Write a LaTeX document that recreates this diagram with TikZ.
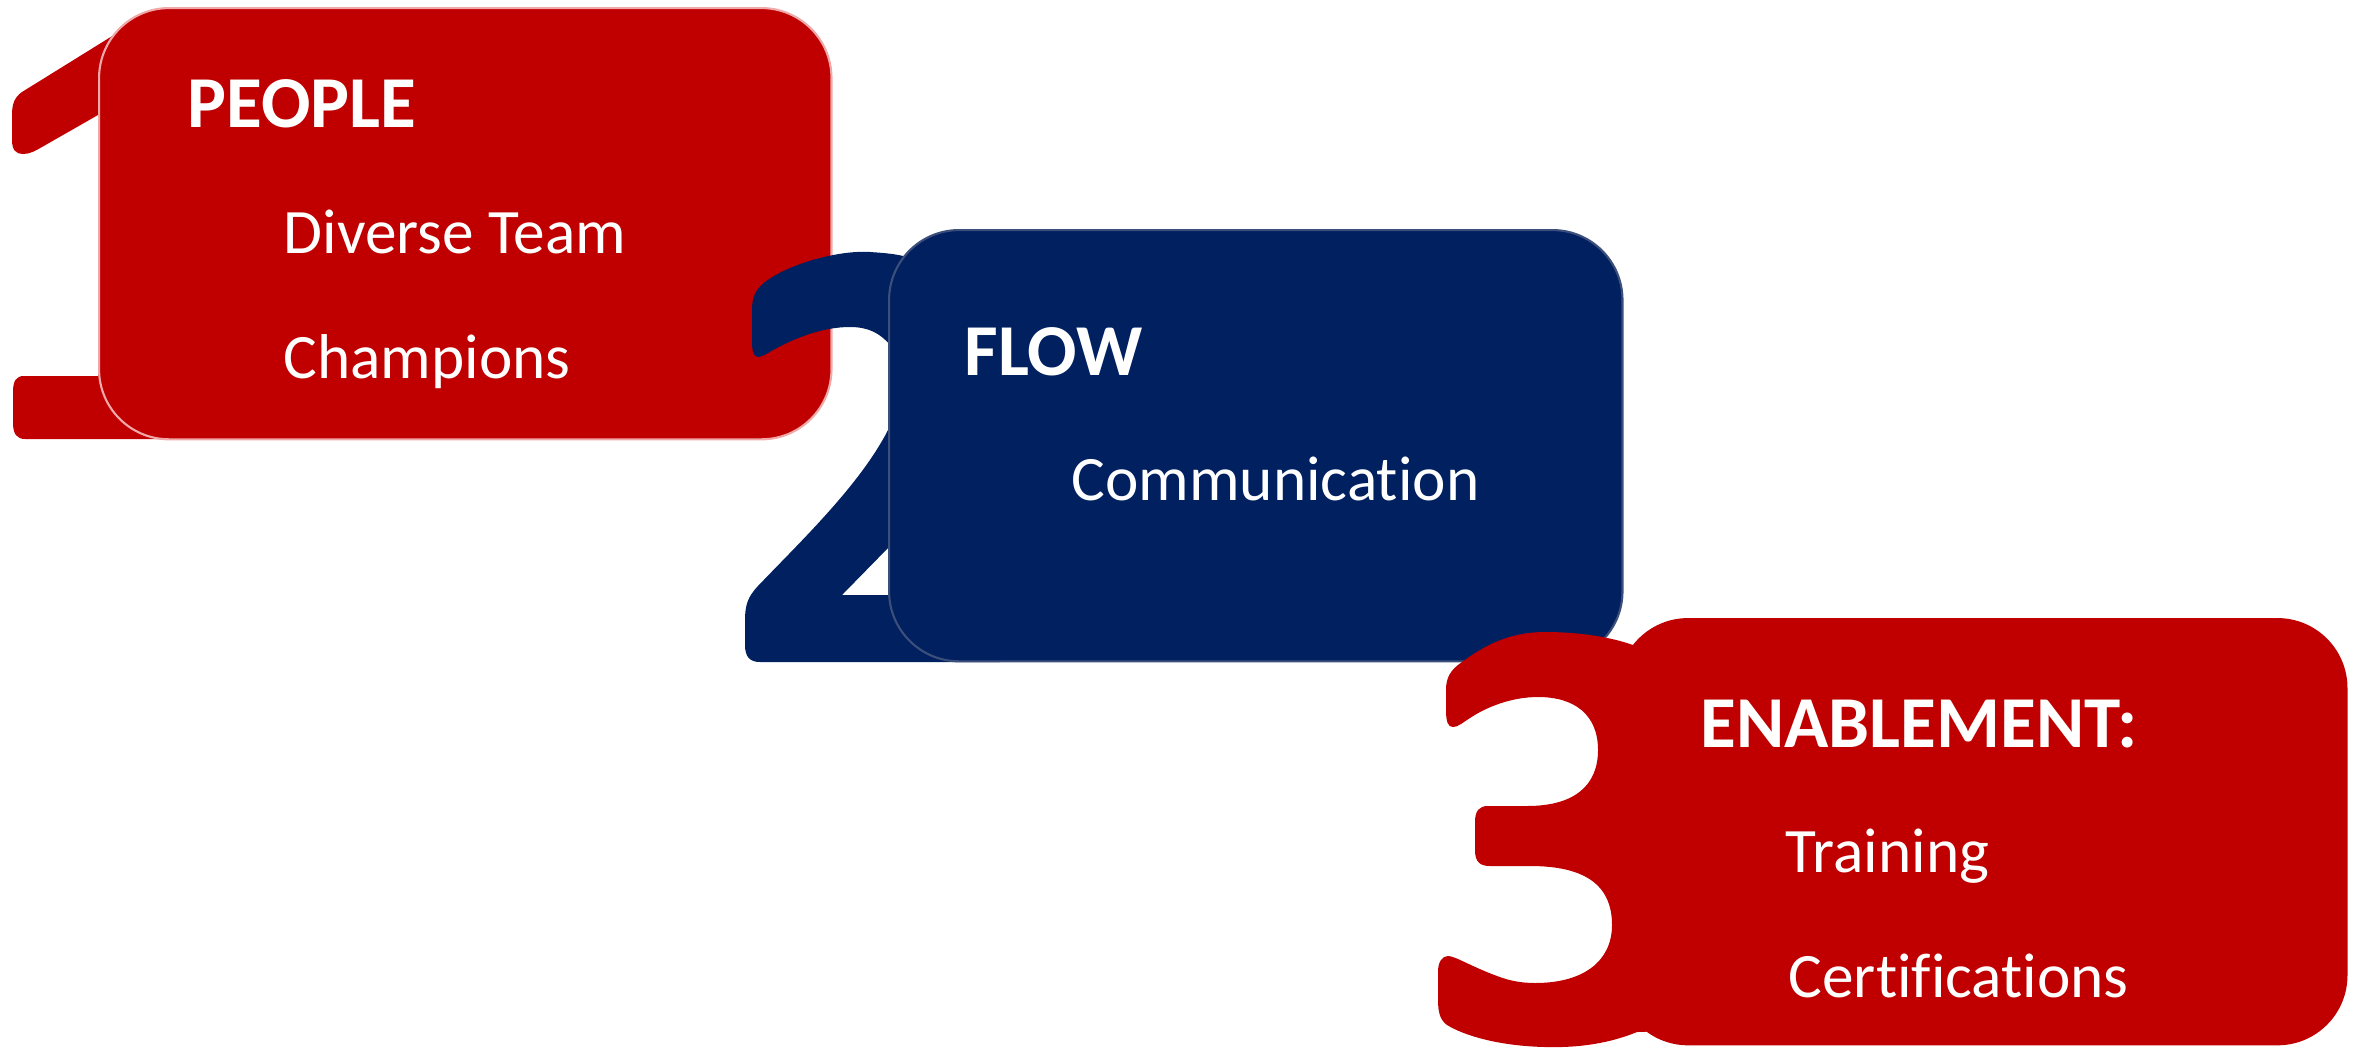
\documentclass[tikz,border=0pt]{standalone}
\usepackage{fontspec}
\setmainfont{Carlito}[Ligatures=CommonOff]
\definecolor{deepred}{HTML}{C00000}
\definecolor{navy}{HTML}{002060}
\definecolor{pinkedge}{HTML}{F0A8A8}
\definecolor{navyedge}{HTML}{3C4F7A}
\begin{document}
\begin{tikzpicture}[x=0.01cm,y=-0.01cm,
  panel/.style={rectangle,rounded corners=0.7cm,anchor=north west,
    inner sep=0pt,line width=0.6pt},
  heading/.style={anchor=base west,inner sep=0pt,text=white,
    font=\fontsize{20.8}{24}\selectfont\bfseries},
  item/.style={anchor=base west,inner sep=0pt,text=white,
    font=\fontsize{18}{22}\selectfont}]
\useasboundingbox (0,0) rectangle (2361,1048);

% ---- step 1: large numeral, then its panel
\fill[deepred] (130,25) -- (22,92)
  .. controls (15,97) and (12,103) .. (12,115) -- (12,140)
  .. controls (12,150) and (16,154) .. (23,154)
  .. controls (30,154) and (35,151) .. (42,147)
  -- (98,115) -- (98,376) -- (24,376)
  .. controls (16,376) and (13,381) .. (13,392) -- (13,423)
  .. controls (13,434) and (17,439) .. (25,439)
  -- (250,439) -- (250,25) -- cycle;
\node[panel,fill=deepred,draw=pinkedge,minimum width=7.32cm,minimum height=4.31cm] (b1) at (98,7) {};
\node[heading] (h1) at (187,127) {PEOPLE};
\node[item] (i11) at (283,253) {Diverse Team};
\node[item] (i12) at (283,378) {Champions};

% ---- step 2
\fill[navy] (752,310)
  .. controls (752,298) and (755,290) .. (765,282)
  .. controls (790,263) and (840,250) .. (870,252)
  .. controls (885,253) and (895,254) .. (903,256)
  -- (1000,245) -- (1000,540) -- (888,548) -- (842,595)
  -- (1000,595) -- (1000,662) -- (760,662)
  .. controls (750,662) and (745,657) .. (745,645) -- (745,620)
  .. controls (745,605) and (748,597) .. (757,587)
  .. controls (800,542) and (860,485) .. (888,430)
  -- (940,425) -- (940,345) -- (890,345)
  .. controls (880,333) and (868,327) .. (850,327)
  .. controls (820,327) and (790,340) .. (768,353)
  .. controls (763,356) and (760,357) .. (758,357)
  .. controls (753,357) and (752,350) .. (752,340) -- cycle;
\node[panel,fill=navy,draw=navyedge,minimum width=7.33cm,minimum height=4.31cm] (b2) at (888,229) {};
\node[heading] (h2) at (964,375) {FLOW};
\node[item] (i21) at (1071,500) {Communication};

% ---- step 3
\fill[deepred] (1446,690)
  .. controls (1446,678) and (1450,670) .. (1462,662)
  .. controls (1485,645) and (1510,632) .. (1545,632)
  .. controls (1580,632) and (1610,637) .. (1633,645)
  -- (1700,645) -- (1700,1030) -- (1637,1032)
  .. controls (1610,1043) and (1580,1048) .. (1545,1047)
  .. controls (1500,1046) and (1465,1036) .. (1447,1025)
  .. controls (1440,1020) and (1438,1012) .. (1438,1000) -- (1438,972)
  .. controls (1438,962) and (1442,956) .. (1448,956)
  .. controls (1455,956) and (1470,966) .. (1497,976)
  .. controls (1510,981) and (1522,983) .. (1535,983)
  .. controls (1585,983) and (1612,960) .. (1612,925)
  .. controls (1612,885) and (1585,866) .. (1530,866) -- (1490,866)
  .. controls (1480,866) and (1475,862) .. (1475,850) -- (1475,822)
  .. controls (1475,811) and (1479,806) .. (1488,806) -- (1527,806)
  .. controls (1575,806) and (1598,785) .. (1598,750)
  .. controls (1598,715) and (1575,697) .. (1538,697)
  .. controls (1510,697) and (1485,708) .. (1470,718)
  .. controls (1462,723) and (1458,727) .. (1453,727)
  .. controls (1448,727) and (1446,722) .. (1446,710) -- cycle;
\node[panel,fill=deepred,minimum width=7.29cm,minimum height=4.27cm] (b3) at (1617,617) {};
\node[heading] (h3) at (1700,747) {ENABLEMENT:};
\node[item] (i31) at (1785,872) {Training};
\node[item] (i32) at (1788,997) {Certifications};
\end{tikzpicture}
\end{document}
